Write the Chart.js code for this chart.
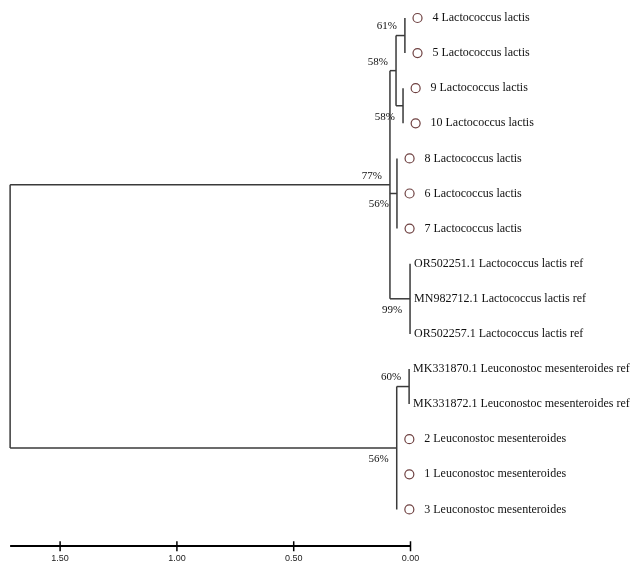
<!DOCTYPE html>
<html>
<head>
<meta charset="utf-8">
<script src="https://cdn.jsdelivr.net/npm/chart.js@4.4.1/dist/chart.umd.min.js"></script>
<style>
  html, body { margin: 0; padding: 0; background: #fff; }
  canvas { display: block; }
</style>
</head>
<body>
<canvas id="tree" width="630" height="562"></canvas>
<script>
// Leaves, top to bottom
const leafNames = [
  "4 Lactococcus lactis",
  "5 Lactococcus lactis",
  "9 Lactococcus lactis",
  "10 Lactococcus lactis",
  "8 Lactococcus lactis",
  "6 Lactococcus lactis",
  "7 Lactococcus lactis",
  "OR502251.1 Lactococcus lactis ref",
  "MN982712.1 Lactococcus lactis ref",
  "OR502257.1 Lactococcus lactis ref",
  "MK331870.1 Leuconostoc mesenteroides ref",
  "MK331872.1 Leuconostoc mesenteroides ref",
  "2 Leuconostoc mesenteroides",
  "1 Leuconostoc mesenteroides",
  "3 Leuconostoc mesenteroides"
];
// isolates get a circle marker, reference strains don't
const leafIsolate = [true, true, true, true, true, true, true, false, false, false, false, false, true, true, true];

// Internal nodes: name, height (distance), bootstrap support, children (node names or leaf indexes)
const nodeNames = ["root", "lacto", "lactoA", "n45", "n910", "n867", "lactoRef", "leuco", "leucoRef"];
const nodeHeights = [1.714, 0.088, 0.062, 0.024, 0.032, 0.058, 0.002, 0.059, 0.006];
const nodeSupport = ["", "77%", "58%", "61%", "58%", "56%", "99%", "56%", "60%"];
const nodeChildren = [
  ["lacto", "leuco"],
  ["lactoA", "n867", "lactoRef"],
  ["n45", "n910"],
  [0, 1],
  [2, 3],
  [4, 5, 6],
  [7, 8, 9],
  ["leucoRef", 12, 13, 14],
  [10, 11]
];
// is the support label written under the branch?
const supportBelow = [false, false, false, false, true, true, true, true, false];

// scale bar
const scaleTicks = [0, 0.5, 1.0, 1.5];

const BAR_Y = 15.04;      // row of the scale bar (below the last leaf)
const MARK_GAP = 0.054;   // circle sits a little right of its node

// work out node rows and branch segments
const nodeY = [];
const leafParentH = [];
const segments = [];

function layoutNode(k) {
  const h = nodeHeights[k];
  const ys = nodeChildren[k].map(c => {
    if (typeof c === "number") {
      leafParentH[c] = h;
      return c;
    }
    const j = nodeNames.indexOf(c);
    const cy = layoutNode(j);
    segments.push([[h, cy], [nodeHeights[j], cy]]); // horizontal branch
    return cy;
  });
  segments.push([[h, ys[0]], [h, ys[ys.length - 1]]]); // vertical
  nodeY[k] = (ys[0] + ys[ys.length - 1]) / 2;
  return nodeY[k];
}
layoutNode(0);

const datasets = [];

segments.forEach(s => {
  datasets.push({
    data: s.map(p => ({ x: p[0], y: p[1] })),
    showLine: true,
    borderColor: "#3a3a3a",
    borderWidth: 1.5,
    pointRadius: 0,
    clip: false
  });
});

// scale bar line
datasets.push({
  data: [{ x: 0, y: BAR_Y }, { x: nodeHeights[0], y: BAR_Y }],
  showLine: true,
  borderColor: "#000",
  borderWidth: 2,
  pointRadius: 0,
  clip: false
});
// scale bar tick marks
scaleTicks.forEach(v => {
  datasets.push({
    data: [{ x: v, y: BAR_Y - 0.13 }, { x: v, y: BAR_Y + 0.15 }],
    showLine: true,
    borderColor: "#000",
    borderWidth: 1.5,
    pointRadius: 0,
    clip: false
  });
});

// isolate circles
datasets.push({
  data: leafNames.map((n, i) => leafIsolate[i] ? { x: leafParentH[i] - MARK_GAP, y: i } : null).filter(p => p),
  showLine: false,
  pointRadius: 4.5,
  pointBorderWidth: 1.2,
  pointBorderColor: "#6e4040",
  pointBackgroundColor: "#fff",
  clip: false
});

// leaf names and support values
const treeLabels = {
  id: "treeLabels",
  afterDatasetsDraw(chart) {
    const ctx = chart.ctx;
    const xs = chart.scales.x;
    const ys = chart.scales.y;
    ctx.save();
    ctx.fillStyle = "#111";
    ctx.textBaseline = "middle";

    ctx.font = '12px "Liberation Serif", "Times New Roman", serif';
    ctx.textAlign = "left";
    leafNames.forEach((name, i) => {
      const px = xs.getPixelForValue(leafParentH[i]) + (leafIsolate[i] ? 27.5 : 4);
      ctx.fillText(name, px, ys.getPixelForValue(i));
    });

    ctx.font = '11px "Liberation Serif", "Times New Roman", serif';
    ctx.textAlign = "right";
    nodeSupport.forEach((s, k) => {
      if (!s) return;
      const px = xs.getPixelForValue(nodeHeights[k]) - 8;
      const py = ys.getPixelForValue(nodeY[k]) + (supportBelow[k] ? 11 : -9);
      ctx.fillText(s, px, py);
    });
    ctx.restore();
  }
};

new Chart(document.getElementById("tree"), {
  type: "scatter",
  data: { datasets: datasets },
  options: {
    responsive: false,
    animation: false,
    events: [],
    layout: { padding: 0, autoPadding: false },
    plugins: {
      legend: { display: false },
      tooltip: { enabled: false }
    },
    scales: {
      x: {
        type: "linear",
        reverse: true,
        min: -0.9396,
        max: 1.7573,
        grid: { display: false, drawTicks: false },
        border: { display: false },
        ticks: {
          padding: 3,
          color: "#222",
          font: { family: '"Liberation Sans Narrow", "Liberation Sans", sans-serif', size: 9 },
          callback: v => Number(v).toFixed(2)
        },
        afterBuildTicks: scale => {
          scale.ticks = scaleTicks.map(v => ({ value: v }));
        },
        afterFit: scale => {
          scale.height = 12;
        }
      },
      y: {
        display: false,
        reverse: true,
        min: -0.5128,
        max: 15.157
      }
    }
  },
  plugins: [treeLabels]
});
</script>
</body>
</html>
